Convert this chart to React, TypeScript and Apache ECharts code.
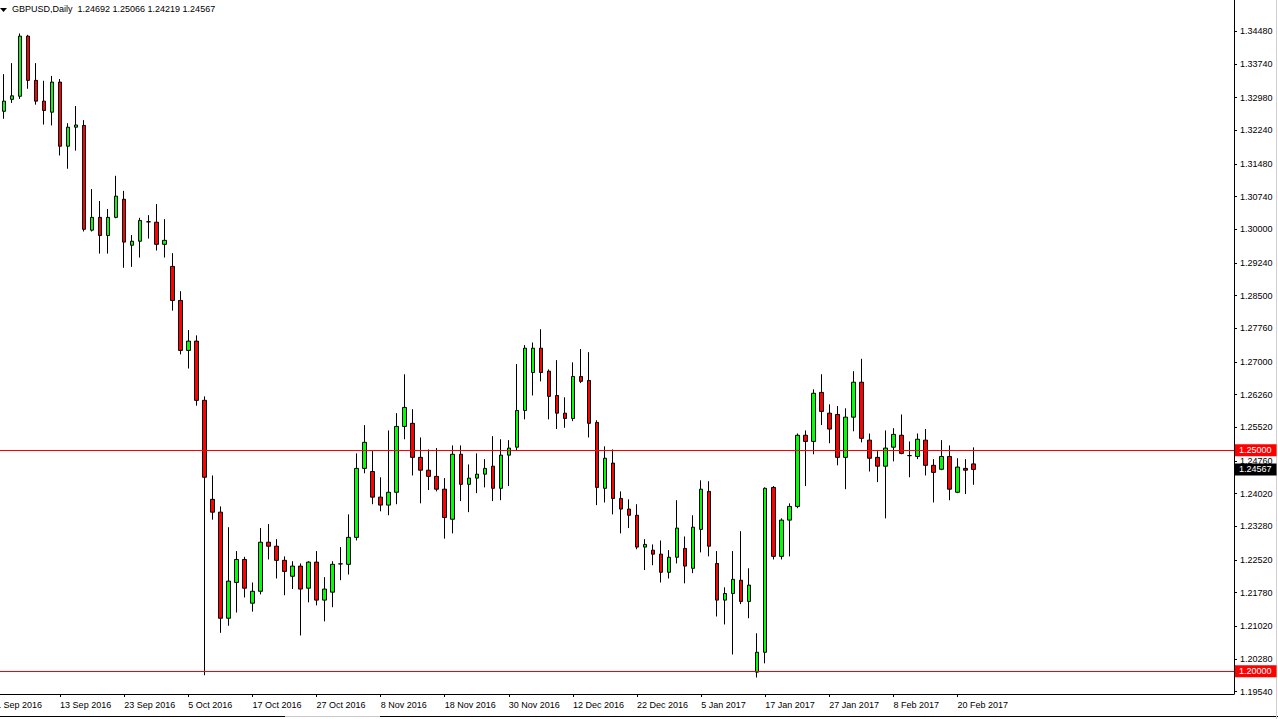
import React, { useEffect, useRef } from "react";
import * as echarts from "echarts";

// ---------- data ----------
const symbolName = "GBPUSD,Daily";

// daily candles from 2 Sep 2016 to 22 Feb 2017
const opens = [
  1.3267, 1.3294, 1.3301, 1.3437, 1.3337, 1.329, 1.3265, 1.3333, 1.3188, 1.3231,
  1.3235, 1.2998, 1.3027, 1.2986, 1.3027, 1.3068, 1.2964, 1.2973, 1.3017, 1.3016,
  1.2966, 1.2916, 1.2839, 1.2726, 1.2747, 1.2613, 1.2389, 1.236, 1.212, 1.2201,
  1.2253, 1.2154, 1.2181, 1.2292, 1.2283, 1.2251, 1.2215, 1.2238, 1.2188, 1.2247,
  1.2161, 1.2179, 1.2243, 1.2242, 1.2303, 1.2459, 1.2452, 1.2394, 1.2376, 1.2405,
  1.2554, 1.2561, 1.2484, 1.2455, 1.2441, 1.2412, 1.2344, 1.2491, 1.2423, 1.2437,
  1.2446, 1.2464, 1.2414, 1.2489, 1.2507, 1.259, 1.2676, 1.2731, 1.2679, 1.2624,
  1.2584, 1.2572, 1.2667, 1.2658, 1.2563, 1.2414, 1.2471, 1.2391, 1.2367, 1.2353,
  1.2281, 1.2274, 1.2265, 1.2224, 1.2258, 1.2278, 1.2233, 1.2321, 1.2407, 1.2244,
  1.2161, 1.2176, 1.2206, 1.2158, 1.1998, 1.2043, 1.2416, 1.226, 1.2342, 1.2373,
  1.2534, 1.252, 1.2631, 1.2584, 1.2581, 1.2484, 1.2575, 1.2654, 1.2523, 1.2484,
  1.2464, 1.2507, 1.2534, 1.2488, 1.2486, 1.2523, 1.2466, 1.2457, 1.2486, 1.2405,
  1.2459, 1.24692,
];
const highs = [
  1.3351, 1.3376, 1.3443, 1.344, 1.3376, 1.3336, 1.3347, 1.334, 1.324, 1.3279,
  1.3247, 1.3091, 1.3064, 1.3046, 1.3121, 1.3087, 1.2987, 1.3026, 1.3032, 1.3057,
  1.3023, 1.2946, 1.286, 1.2772, 1.276, 1.2622, 1.2443, 1.2373, 1.2326, 1.2272,
  1.2259, 1.2201, 1.2324, 1.2333, 1.2299, 1.226, 1.2249, 1.2244, 1.2249, 1.2272,
  1.2213, 1.2249, 1.2281, 1.2355, 1.2493, 1.2557, 1.25, 1.2439, 1.2545, 1.2584,
  1.2672, 1.2593, 1.2529, 1.2502, 1.2505, 1.2437, 1.2511, 1.2511, 1.2468, 1.2493,
  1.248, 1.2532, 1.2525, 1.2523, 1.2695, 1.2738, 1.2744, 1.2774, 1.2683, 1.2704,
  1.262, 1.2699, 1.2729, 1.2722, 1.2568, 1.2509, 1.2502, 1.2407, 1.2389, 1.2378,
  1.2299, 1.2287, 1.2296, 1.2274, 1.2387, 1.2305, 1.2353, 1.2432, 1.243, 1.2272,
  1.219, 1.2272, 1.2317, 1.2233, 1.2086, 1.2416, 1.2419, 1.2346, 1.238, 1.2538,
  1.2545, 1.2638, 1.2672, 1.2604, 1.26, 1.2595, 1.2679, 1.2707, 1.2538, 1.2498,
  1.2545, 1.255, 1.2581, 1.252, 1.2538, 1.2548, 1.248, 1.2523, 1.2511, 1.2482,
  1.248, 1.25066,
];
const lows = [
  1.325, 1.3286, 1.3295, 1.3318, 1.3282, 1.3237, 1.3235, 1.3167, 1.3137, 1.3178,
  1.2995, 1.2995, 1.2945, 1.2945, 1.3025, 1.2913, 1.2915, 1.2936, 1.2979, 1.2952,
  1.2936, 1.2816, 1.2717, 1.2685, 1.2601, 1.1991, 1.2343, 1.2087, 1.2103, 1.2133,
  1.2167, 1.2135, 1.2174, 1.2253, 1.221, 1.2172, 1.2186, 1.2081, 1.2156, 1.2149,
  1.2113, 1.2145, 1.2206, 1.2219, 1.2296, 1.2448, 1.2378, 1.2362, 1.2353, 1.2378,
  1.2525, 1.2443, 1.238, 1.241, 1.2407, 1.23, 1.2312, 1.2385, 1.236, 1.2403,
  1.2416, 1.2385, 1.2387, 1.2419, 1.25, 1.257, 1.2624, 1.2656, 1.257, 1.2548,
  1.2551, 1.2566, 1.2652, 1.2529, 1.2376, 1.2382, 1.2355, 1.2312, 1.2324, 1.2276,
  1.2229, 1.224, 1.2201, 1.221, 1.2244, 1.2199, 1.2222, 1.2269, 1.226, 1.2124,
  1.2106, 1.2038, 1.2152, 1.212, 1.1986, 1.2018, 1.2253, 1.2253, 1.226, 1.2369,
  1.2419, 1.2491, 1.2557, 1.2516, 1.2466, 1.2412, 1.2543, 1.2518, 1.2452, 1.2428,
  1.2346, 1.2475, 1.2491, 1.2439, 1.248, 1.2443, 1.2382, 1.2455, 1.2387, 1.2403,
  1.2401, 1.24219,
];
const closes = [
  1.329, 1.3302, 1.3437, 1.3337, 1.329, 1.3269, 1.3333, 1.3188, 1.3231, 1.3236,
  1.3, 1.3027, 1.2986, 1.3027, 1.3075, 1.2971, 1.2973, 1.302, 1.3017, 1.2966,
  1.2975, 1.2839, 1.2726, 1.2747, 1.2613, 1.2439, 1.236, 1.212, 1.2204, 1.2253,
  1.2188, 1.2181, 1.2292, 1.2283, 1.2251, 1.2226, 1.2238, 1.2186, 1.2247, 1.2161,
  1.2186, 1.2242, 1.2243, 1.2303, 1.2459, 1.2518, 1.2394, 1.2376, 1.2405, 1.2554,
  1.2597, 1.2484, 1.2455, 1.2441, 1.2412, 1.2348, 1.2491, 1.2423, 1.2437, 1.2446,
  1.2459, 1.2414, 1.2489, 1.2505, 1.259, 1.2731, 1.2731, 1.2676, 1.2622, 1.2584,
  1.2572, 1.2667, 1.2656, 1.2561, 1.2416, 1.2482, 1.2391, 1.2367, 1.2353, 1.2281,
  1.2287, 1.2265, 1.2224, 1.2258, 1.2324, 1.2238, 1.2326, 1.2412, 1.2283, 1.2161,
  1.2176, 1.2208, 1.2158, 1.2195, 1.2043, 1.2414, 1.226, 1.2342, 1.2373, 1.2534,
  1.252, 1.2629, 1.2588, 1.2548, 1.2484, 1.2575, 1.2654, 1.2527, 1.2482, 1.2464,
  1.2505, 1.2536, 1.2493, 1.2488, 1.2525, 1.2466, 1.245, 1.2486, 1.2412, 1.2462,
  1.2455, 1.24567,
];

// trading days (weekdays minus market holidays), first one (1 Sep) has no visible candle
const firstDay = "2016-09-01";
const lastDay = "2017-02-22";
const holidays = ["2016-12-26", "2017-01-02"];
const monthNames = ["Jan", "Feb", "Mar", "Apr", "May", "Jun", "Jul", "Aug", "Sep", "Oct", "Nov", "Dec"];

function buildDates(): string[] {
  const out: string[] = [];
  const d = new Date(firstDay + "T12:00:00Z");
  const end = new Date(lastDay + "T12:00:00Z");
  while (d <= end) {
    const iso = d.toISOString().slice(0, 10);
    const wd = d.getUTCDay();
    if (wd !== 0 && wd !== 6 && !holidays.includes(iso)) {
      out.push(`${d.getUTCDate()} ${monthNames[d.getUTCMonth()]} ${d.getUTCFullYear()}`);
    }
    d.setUTCDate(d.getUTCDate() + 1);
  }
  return out;
}
const dates = buildDates();
const labelEvery = 8; // a date label every 8 bars
const lastLabelIndex = 120;

const priceTicks = [
  1.3448, 1.3374, 1.3298, 1.3224, 1.3148, 1.3074, 1.3, 1.2924, 1.285, 1.2776, 1.27,
  1.2626, 1.2552, 1.2476, 1.2402, 1.2328, 1.2252, 1.2178, 1.2102, 1.2028, 1.1954,
];
const priceMin = 1.19486;
const priceMax = 1.35188;
const levelLines = [1.25, 1.2];

// ---------- layout ----------
const OFF = 8; // chart div is shifted 8px left so that bar "1 Sep" sits off-screen
const TOTAL_SLOTS = 155;

export default function App() {
  const ref = useRef<HTMLDivElement>(null);

  useEffect(() => {
    if (!ref.current) return;
    const chart = echarts.init(ref.current, null, { renderer: "svg" });
    const n = closes.length;
    const candleData: any[] = [["-", "-", "-", "-"]];
    for (let i = 0; i < n; i++) candleData.push([opens[i], closes[i], lows[i], highs[i]]);
    const categories = dates.slice();
    const pad = TOTAL_SLOTS - categories.length;
    for (let i = 0; i < pad; i++) categories.push(`next-${i + 1}`);

    const showIdx = (idx: number) => idx % labelEvery === 0 && idx <= lastLabelIndex;
    const last = n - 1;
    const header = `${symbolName}  ${[opens[last], highs[last], lows[last], closes[last]]
      .map((v) => v.toFixed(5))
      .join(" ")}`;
    const font = "Liberation Sans";

    const levelLabel = (bg: string) => ({
      show: true,
      position: "end",
      distance: 1,
      formatter: (p: any) => Number(p.value).toFixed(5),
      backgroundColor: bg,
      color: "#ffffff",
      fontSize: 9,
      fontFamily: font,
      padding: [2, 5, 1, 4],
    });

    chart.setOption({
      animation: false,
      backgroundColor: "#ffffff",
      textStyle: { fontFamily: font },
      grid: { left: 0, right: 44, top: 0, bottom: 25, containLabel: false, outerBoundsMode: "none" },
      xAxis: {
        type: "category",
        data: categories,
        boundaryGap: true,
        axisLine: { show: true, lineStyle: { color: "#000000", width: 1 } },
        axisTick: {
          show: true,
          alignWithLabel: true,
          length: 3,
          interval: (idx: number) => showIdx(idx),
          lineStyle: { color: "#000000" },
        },
        axisLabel: {
          interval: (idx: number) => showIdx(idx),
          align: "left",
          margin: 6,
          fontSize: 9,
          fontFamily: font,
          color: "#000000",
        },
        splitLine: { show: false },
      },
      yAxis: {
        type: "value",
        position: "right",
        min: priceMin,
        max: priceMax,
        axisLine: { show: true, lineStyle: { color: "#000000", width: 1 } },
        axisTick: { show: true, length: 3, customValues: priceTicks, lineStyle: { color: "#000000" } },
        axisLabel: {
          customValues: priceTicks,
          formatter: (v: number) => v.toFixed(5),
          fontSize: 9,
          fontFamily: font,
          color: "#000000",
          margin: 6,
        },
        splitLine: { show: false },
      },
      series: [
        {
          type: "candlestick",
          data: candleData,
          barWidth: 4,
          itemStyle: {
            color: "#00ff00",
            color0: "#ff0000",
            borderColor: "#000000",
            borderColor0: "#000000",
            borderColorDoji: "#000000",
            borderWidth: 1,
          },
          markLine: {
            silent: true,
            precision: 5,
            symbol: ["none", "none"],
            lineStyle: { color: "#ff0000", width: 1, type: "solid" },
            label: levelLabel("#ff0000"),
            data: levelLines.map((v) => ({ yAxis: v })),
          },
        },
        {
          type: "line",
          name: "bid",
          data: [],
          silent: true,
          markLine: {
            silent: true,
            precision: 5,
            symbol: ["none", "none"],
            lineStyle: { color: "rgba(0,0,0,0)", width: 1, type: "solid" },
            label: levelLabel("#000000"),
            data: [{ yAxis: closes[last] }],
          },
        },
      ],
      graphic: [
        {
          type: "polygon",
          shape: { points: [[OFF + 0, 8], [OFF + 7, 8], [OFF + 3.5, 12]] },
          style: { fill: "#000000" },
        },
        {
          type: "text",
          x: OFF + 12,
          y: 9,
          style: { text: header, fontSize: 9, fontFamily: font, fill: "#000000", verticalAlign: "middle" },
        },
        {
          type: "line",
          shape: { x1: OFF + 0, y1: 716.5, x2: OFF + 285, y2: 716.5 },
          style: { stroke: "#000000", lineWidth: 1 },
        },
        {
          type: "line",
          shape: { x1: OFF + 285, y1: 716.5, x2: OFF + 380, y2: 716.5 },
          style: { stroke: "#c8c8c8", lineWidth: 1 },
        },
        {
          type: "line",
          shape: { x1: OFF + 380, y1: 716.5, x2: OFF + 1278, y2: 716.5 },
          style: { stroke: "#000000", lineWidth: 1 },
        },
        {
          type: "line",
          shape: { x1: OFF + 1276.5, y1: 0, x2: OFF + 1276.5, y2: 719 },
          style: { stroke: "#d0d0d0", lineWidth: 1 },
        },
      ],
    });
    return () => chart.dispose();
  }, []);

  return (
    <div
      ref={ref}
      style={{ position: "fixed", left: -OFF, top: 0, width: 1278 + OFF, height: 719 }}
    />
  );
}
